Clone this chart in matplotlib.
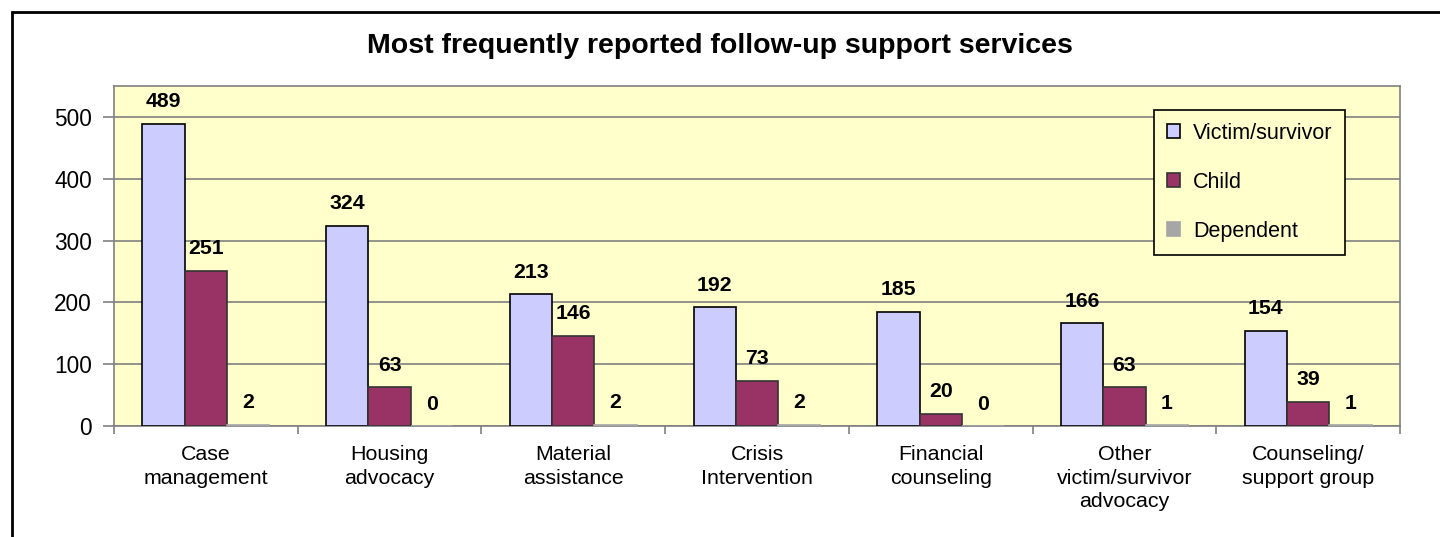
import matplotlib.pyplot as plt
import numpy as np
from matplotlib.patches import Rectangle

categories = ['Case\nmanagement', 'Housing\nadvocacy', 'Material\nassistance',
              'Crisis\nIntervention', 'Financial\ncounseling',
              'Other\nvictim/survivor\nadvocacy', 'Counseling/\nsupport group']
victim = [489, 324, 213, 192, 185, 166, 154]
child = [251, 63, 146, 73, 20, 63, 39]
dependent = [2, 0, 2, 2, 0, 1, 1]

plt.rcParams['font.family'] = ['Liberation Sans', 'DejaVu Sans']

fig = plt.figure(figsize=(14.4, 5.37), dpi=100)
# outer chart border (runs off the right and bottom edge)
fig.patches.append(Rectangle((12 / 1440, -0.1), 1.2, (537 - 12) / 537 + 0.1,
                             transform=fig.transFigure, fill=False,
                             edgecolor='black', linewidth=2))

ax = fig.add_axes([114 / 1440, 1 - 426 / 537, (1400 - 114) / 1440, (426 - 86) / 537])
ax.set_facecolor('#FFFFCC')

x = np.arange(len(categories))
w = 0.23
series = [
    (victim, 'Victim/survivor', '#CCCCFF', 'black'),
    (child, 'Child', '#993366', '#333333'),
    (dependent, 'Dependent', '#A6A6A6', '#A6A6A6'),
]
for i, (vals, name, color, edge) in enumerate(series):
    bars = ax.bar(x + (i - 1) * w, vals, width=w, color=color, edgecolor=edge,
                  linewidth=1.2, label=name, zorder=3)
    for b, v in zip(bars, vals):
        ax.annotate(str(v), (b.get_x() + b.get_width() / 2, v),
                    xytext=(0, 9), textcoords='offset points',
                    ha='center', va='bottom', fontsize=15.3, fontweight='bold')

ax.set_xlim(-0.5, len(categories) - 0.5)
ax.set_ylim(0, 550)
ax.set_yticks([0, 100, 200, 300, 400, 500])
ax.yaxis.grid(True, color='#808080', linewidth=1.2, zorder=0)
ax.set_axisbelow(True)

ax.set_xticks(np.arange(len(categories) + 1) - 0.5)
ax.set_xticklabels([])
ax.set_xticks(x, minor=True)
ax.set_xticklabels(categories, minor=True, fontsize=15.4, linespacing=1.28)
ax.tick_params(axis='x', which='minor', length=0, pad=14)
ax.tick_params(axis='x', which='major', length=6, color='#808080', width=1.2)
ax.tick_params(axis='y', length=8, color='#808080', width=1.2, labelsize=16.3, pad=8)

for s in ax.spines.values():
    s.set_color('#808080')
    s.set_linewidth(1.2)

leg = ax.legend(loc='upper left', bbox_to_anchor=((1154 - 114) / 1286, 1 - (110 - 86) / 340),
                fontsize=15.5, frameon=True, fancybox=False, edgecolor='black',
                facecolor='#FFFFCC', framealpha=1, handlelength=0.6, handleheight=0.6,
                labelspacing=1.3, borderpad=0.6, handletextpad=0.6, borderaxespad=0)
leg.get_frame().set_linewidth(1.2)

fig.text(0.5, 1 - 46 / 537, 'Most frequently reported follow-up support services',
         ha='center', va='center', fontsize=20.5, fontweight='bold')

fig.savefig('out.png', dpi=100)
